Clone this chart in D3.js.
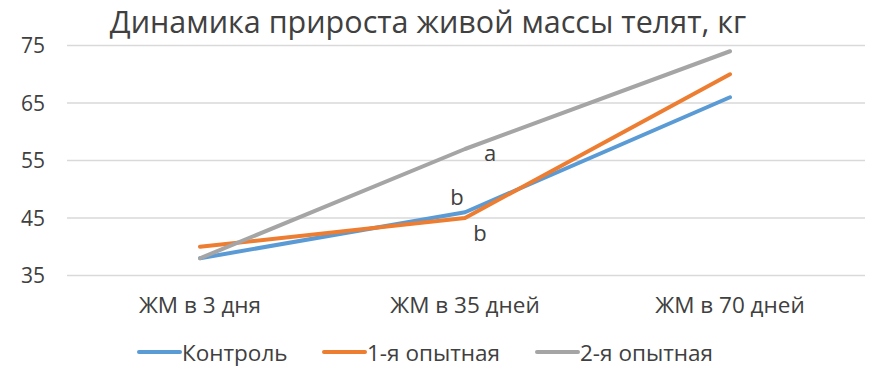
<!DOCTYPE html>
<html><head><meta charset="utf-8">
<script src="https://cdn.jsdelivr.net/npm/d3@7"></script>
<style>body{margin:0;background:#fff}text{font-family:"Open Sans","DejaVu Sans",sans-serif;fill:#404040}</style>
</head><body><svg id="c" width="875" height="380"></svg>
<script>
const title = "Динамика прироста живой массы телят, кг";
const categories = ["ЖМ в 3 дня", "ЖМ в 35 дней", "ЖМ в 70 дней"];
const seriesNames = ["Контроль", "1-я опытная", "2-я опытная"];
const control = [38, 46, 66];
const exp1 = [40, 45, 70];
const exp2 = [38, 57, 74];
const yTicks = [35, 45, 55, 65, 75];
const colors = ["#5B9BD5", "#ED7D31", "#A5A5A5"];
const annotations = [
  {series: 2, cat: 1, text: "a"},
  {series: 0, cat: 1, text: "b"},
  {series: 1, cat: 1, text: "b"}
];
const series = [control, exp1, exp2];

const svg = d3.select("#c");
const x = d3.scalePoint().domain(categories).range([200, 730]);
const y = d3.scaleLinear().domain([35, 75]).range([275.5, 45.5]);

// gridlines
svg.append("g").selectAll("line").data(yTicks).join("line")
  .attr("x1", 67).attr("x2", 865)
  .attr("y1", d => y(d)).attr("y2", d => y(d))
  .attr("stroke", "#D9D9D9").attr("stroke-width", 1.3);

// y axis labels
svg.append("g").selectAll("text").data(yTicks).join("text")
  .attr("x", 45).attr("y", d => y(d)).attr("dy", "0.36em")
  .attr("text-anchor", "end").attr("font-size", 21).text(d => d);

// x axis labels
svg.append("g").selectAll("text").data(categories).join("text")
  .attr("x", d => x(d)).attr("y", 305).attr("dy", "0.36em")
  .attr("text-anchor", "middle").attr("font-size", 22.5).text(d => d);

// lines
const line = d3.line().x((d, i) => x(categories[i])).y(d => y(d));
svg.append("g").selectAll("path").data(series).join("path")
  .attr("d", line).attr("fill", "none")
  .attr("stroke", (d, i) => colors[i]).attr("stroke-width", 4)
  .attr("stroke-linejoin", "round").attr("stroke-linecap", "round");

// annotations
const offs = [[25, 3], [-8, -16], [15, 14]];
svg.append("g").selectAll("text").data(annotations).join("text")
  .attr("x", (d, i) => x(categories[d.cat]) + offs[i][0])
  .attr("y", (d, i) => y(series[d.series][d.cat]) + offs[i][1])
  .attr("text-anchor", "middle").attr("dominant-baseline", "central")
  .attr("font-size", 22).text(d => d.text);

// title
svg.append("text").attr("x", 428).attr("y", 33).attr("text-anchor", "middle")
  .attr("font-size", 30.5).text(title);

// legend
const lx = [139, 324, 537];
const lg = svg.append("g").selectAll("g").data(seriesNames).join("g")
  .attr("transform", (d, i) => `translate(${lx[i]},352)`);
lg.append("line").attr("x1", 0).attr("x2", 41).attr("y1", 0).attr("y2", 0)
  .attr("stroke", (d, i) => colors[i]).attr("stroke-width", 4).attr("stroke-linecap", "round");
lg.append("text").attr("x", 43).attr("y", 0).attr("dominant-baseline", "central")
  .attr("font-size", 22.5).text(d => d);
</script></body></html>
